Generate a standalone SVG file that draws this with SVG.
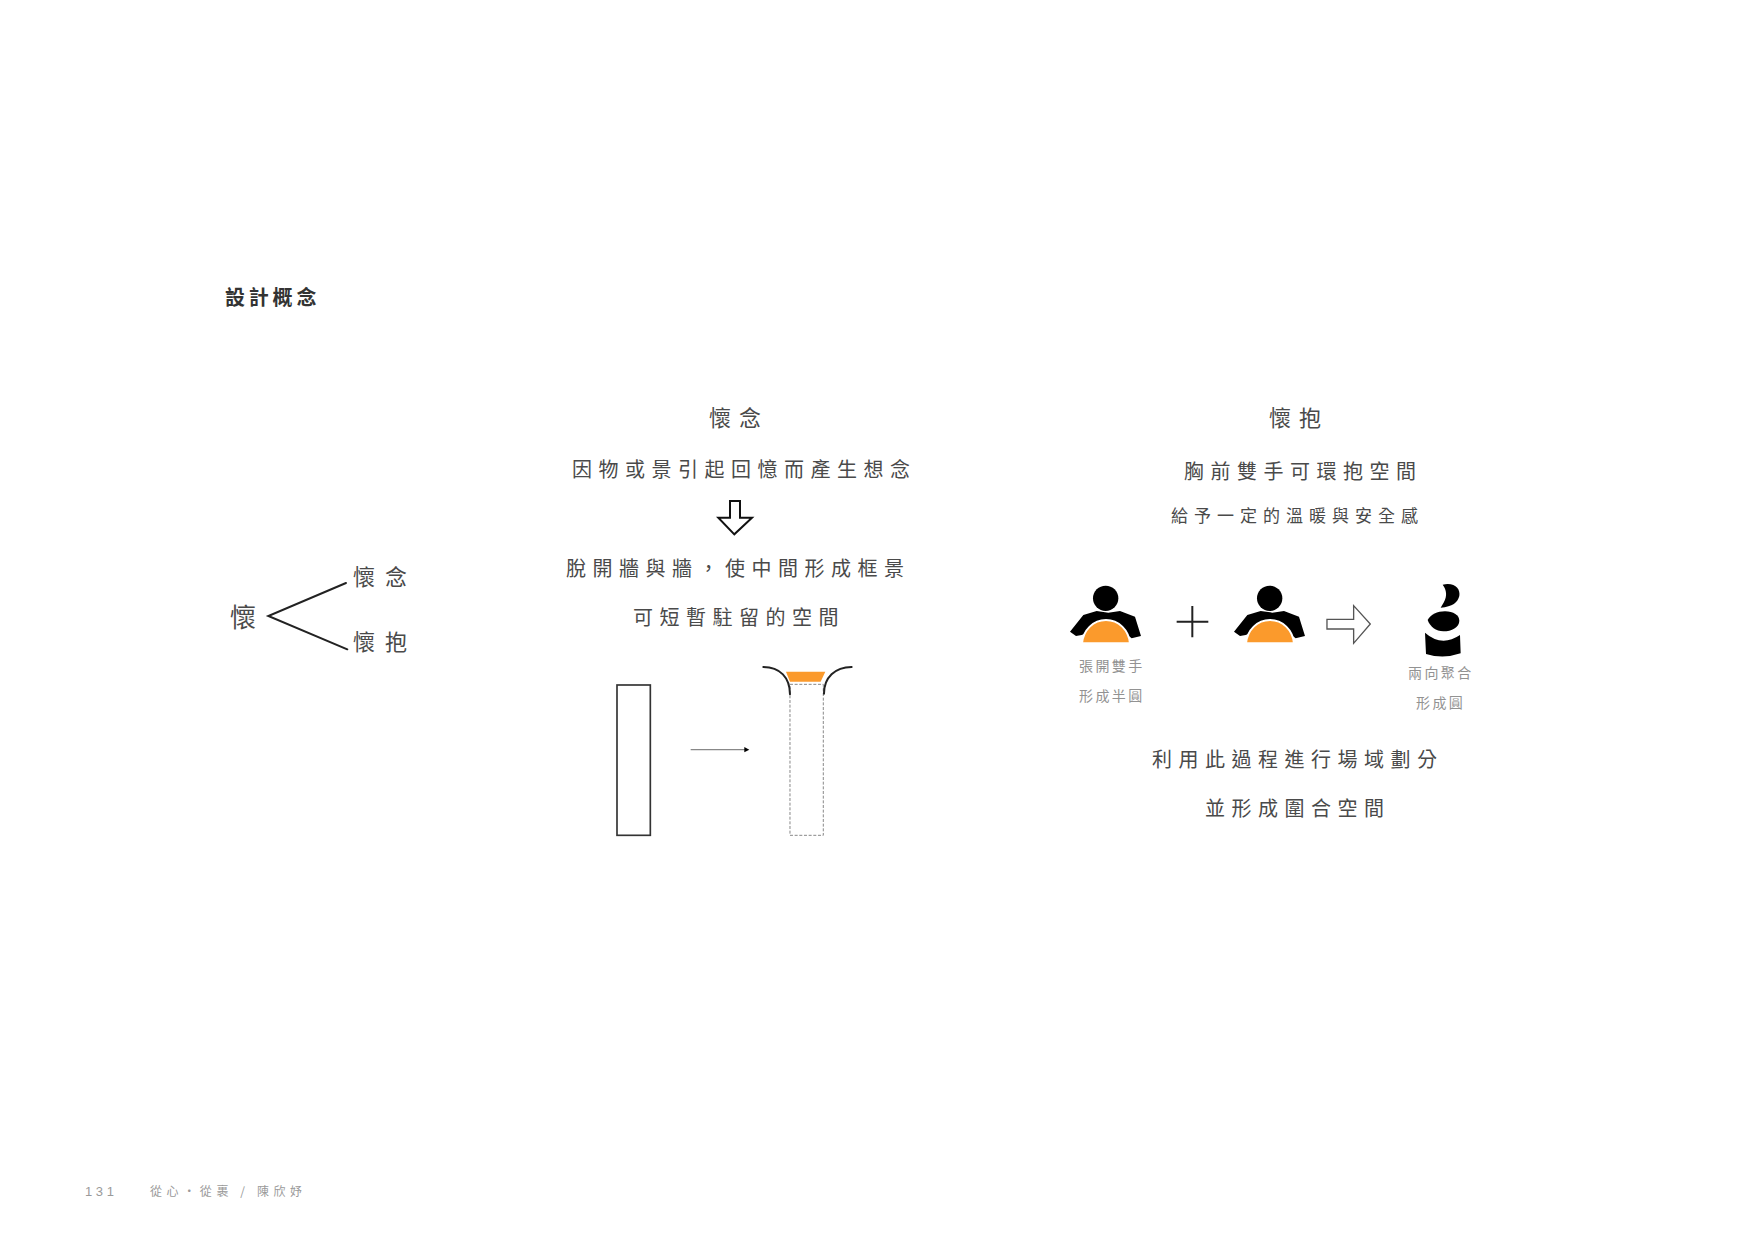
<svg xmlns="http://www.w3.org/2000/svg" width="1755" height="1241" viewBox="0 0 1755 1241">
<style>
text{font-family:"Noto Sans CJK TC","Noto Sans CJK SC",sans-serif;fill:#4a4a4a}
.b{font-size:20px;letter-spacing:3.8px;font-weight:700;fill:#333}
.h{font-size:22px;letter-spacing:8px}
.m{font-size:20px;letter-spacing:6.5px}
.s{font-size:17px;letter-spacing:6px}
.c{font-size:14px;letter-spacing:2.4px;fill:#929292}
.f{font-size:12px;letter-spacing:4.6px;fill:#9a9a9a}
.k{fill:#000}
.o{fill:#fb9a2c}
.l{fill:none;stroke:#222;stroke-width:6;stroke-linecap:round}
</style>
<defs>
<filter id="soft" x="-10%" y="-10%" width="120%" height="120%"><feGaussianBlur stdDeviation="1.6"/></filter>
<g id="person">
<circle class="k" cx="197" cy="115" r="38"/>
<path class="k" d="M90 215L130 165L170 153L205 158L240 153L285 170L303 228L275 235L250 215L150 215L125 225L108 228Z"/>
<path class="o" stroke="#fff" stroke-width="6" d="M126 250C130 210 160 180 198 180C236 180 266 210 270 250Z"/>
</g>
</defs>
<text class="b" x="225" y="305">設計概念</text>
<g id="fork">
<g transform="translate(210 541) scale(.3333)"><path class="l" d="M408 126L175 225L412 325"/></g>
<text x="230" y="627" font-size="26">懷</text>
<text x="353" y="585" font-size="22" style="letter-spacing:10px">懷念</text>
<text x="353" y="650" font-size="22" style="letter-spacing:10px">懷抱</text>
</g>
<g id="nostalgia">
<text class="h" x="709" y="426">懷念</text>
<text class="m" x="572" y="477">因物或景引起回憶而產生想念</text>
<g id="down-arrow" transform="translate(690 481) scale(.3333)"><path d="M120 60H150V110H186L133 160L85 110H120Z" fill="#fff" stroke="#111" stroke-width="6"/></g>
<text class="m" x="566" y="576">脫開牆與牆，使中間形成框景</text>
<text class="m" x="633" y="625">可短暫駐留的空間</text>
</g>
<g id="plan" transform="translate(590 641) scale(.3333)">
<rect x="81" y="132" width="100" height="451" fill="none" stroke="#333" stroke-width="5"/>
<path d="M302 326H465" stroke="#888" stroke-width="4" fill="none"/>
<path class="k" d="M463 318L478 326L463 334Z"/>
<rect x="600" y="130" width="100" height="453" fill="none" stroke="#888" stroke-width="3" stroke-dasharray="9 5"/>
<path class="o" d="M588 92H706L692 122H600Z"/>
<path class="l" d="M520 78C570 78 600 110 600 160M785 78C735 78 702 110 702 158"/>
</g>
<g id="embrace">
<text class="h" x="1269" y="426">懷抱</text>
<text class="m" x="1184" y="479">胸前雙手可環抱空間</text>
<text class="s" x="1171" y="522">給予一定的溫暖與安全感</text>
</g>
<g id="person-1" transform="translate(1040 560) scale(.3333)"><use href="#person"/></g>
<g id="plus" transform="translate(1040 560) scale(.3333)"><path d="M410 185H505M457 138V232" stroke="#222" stroke-width="6" fill="none"/></g>
<g id="person-2" transform="translate(1204 560) scale(.3333)"><use href="#person"/></g>
<g id="right-arrow" transform="translate(1041 560) scale(.3333)"><path d="M858 178H938V137L988 192L938 250V207H858Z" fill="#fff" stroke="#555" stroke-width="4"/></g>
<g id="merged" transform="translate(1400 570) scale(.3333)">
<path class="k" d="M128 44C165 36 182 58 178 78C173 98 158 110 122 113L132 96C142 78 140 60 128 44Z"/>
<path class="k" d="M83 150C92 134 112 124 135 124C160 124 178 136 178 152C178 172 155 184 130 184C108 184 90 170 83 150Z"/>
<path class="k" filter="url(#soft)" d="M75 188Q125 232 180 195L182 250Q130 268 78 252Z"/>
</g>
<text class="c" x="1079" y="671">張開雙手</text>
<text class="c" x="1079" y="701">形成半圓</text>
<text class="c" x="1408" y="678">兩向聚合</text>
<text class="c" x="1416" y="708">形成圓</text>
<text class="m" x="1152" y="767">利用此過程進行場域劃分</text>
<text class="m" x="1205" y="816">並形成圍合空間</text>
<text class="f" x="85" y="1196" style="font-family:'Liberation Sans',sans-serif;font-size:13px;letter-spacing:3.6px">131</text>
<text class="f" x="150" y="1196">從心・從裹 / 陳欣妤</text>
</svg>
